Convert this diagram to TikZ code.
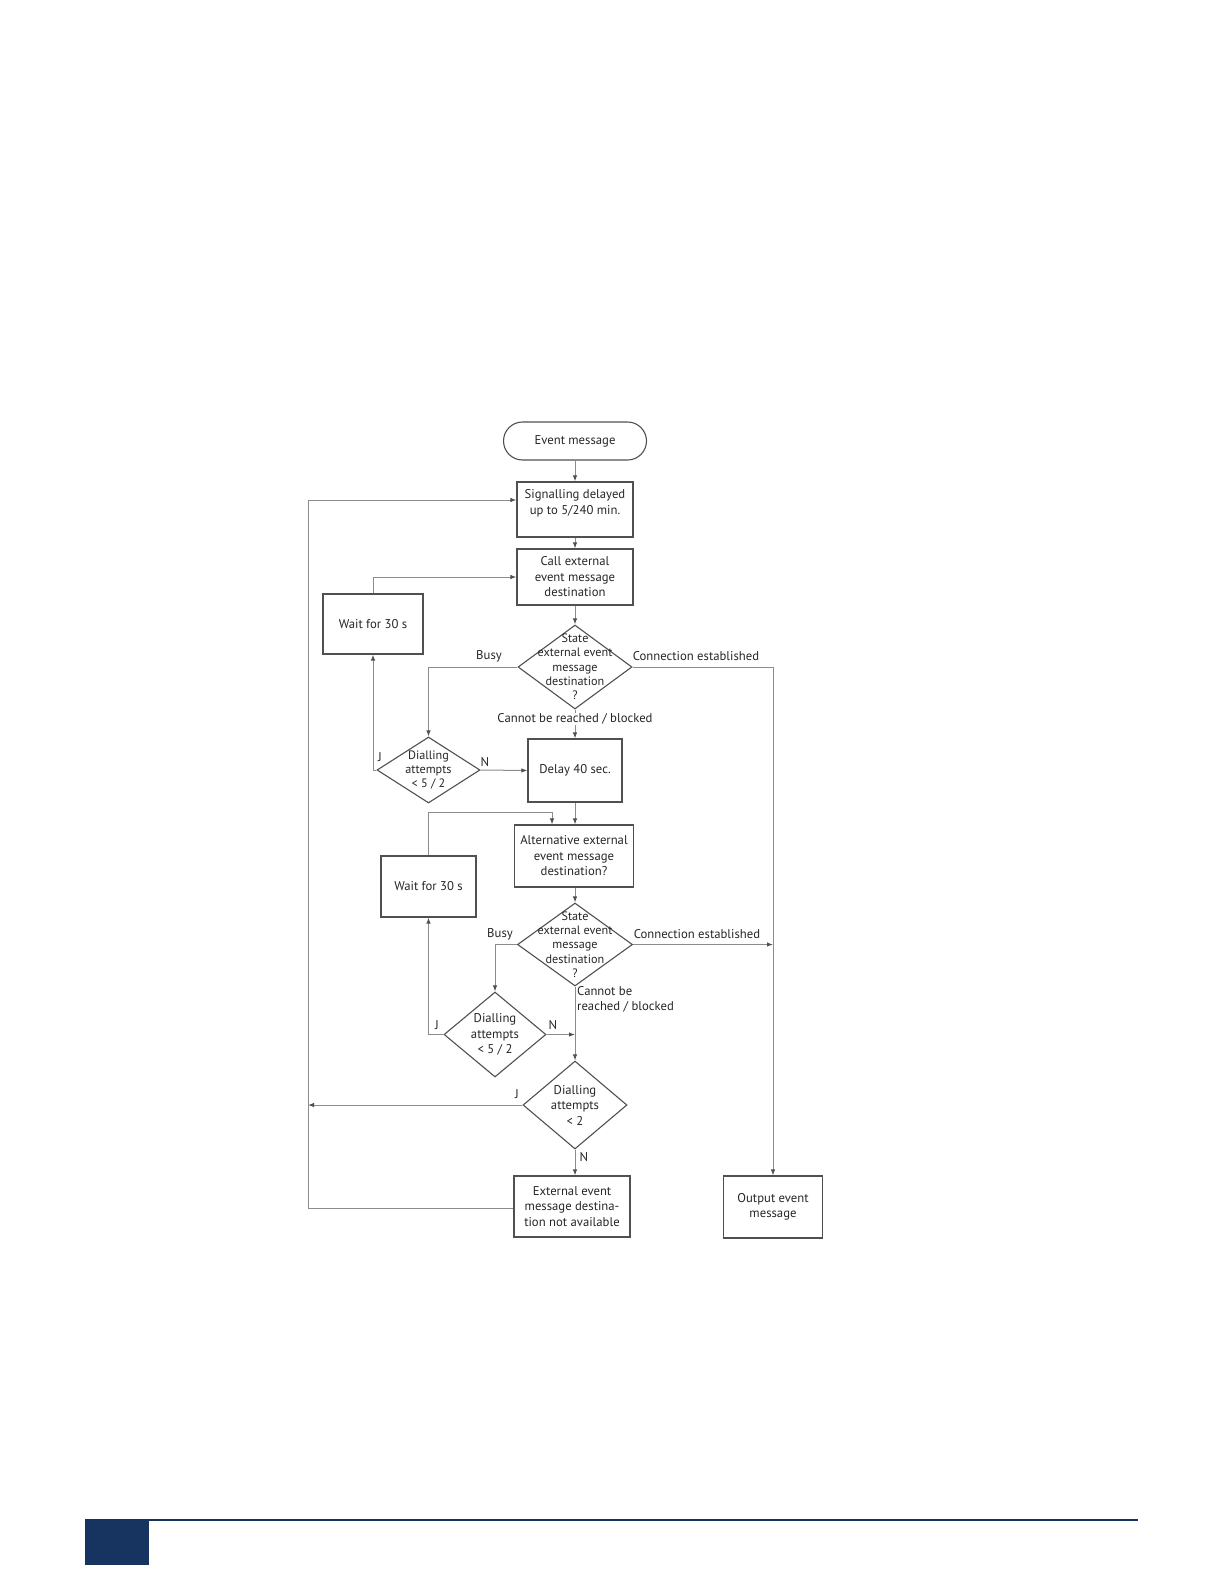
\documentclass[tikz,border=0pt]{standalone}
\usepackage{fontspec}
\setmainfont{PT Sans}
\usepackage{tikz}
\usetikzlibrary{positioning}
\usetikzlibrary{arrows.meta}
\usetikzlibrary{shapes.geometric}
\definecolor{boxgray}{HTML}{505050}
\definecolor{linegray}{HTML}{8C8C8C}
\definecolor{textgray}{HTML}{262626}
\definecolor{footblue}{HTML}{17335F}
\tikzset{
  myarrow/.style={
    draw=linegray,
    line width=1pt,
    -{Latex[length=6pt,width=4.5pt,color=boxgray]},
  },
  mybox/.style={
    draw=boxgray,
    shape=rectangle,
    line width=1.1pt,
    align=center,
    inner sep=2pt,
    text=textgray,
    font=\fontsize{12.7}{15.5}\selectfont
  },
  myterm/.style={
    mybox,
    rounded corners=19pt,
    minimum width=143pt,
    minimum height=38pt,
  },
  mydiamond/.style={
    draw=boxgray,
    shape=diamond,
    line width=1.1pt,
    inner sep=0pt,
  },
  dtext/.style={
    align=center,
    inner sep=0pt,
    text=textgray,
    font=\fontsize{12.2}{14.3}\selectfont
  },
  mylabel/.style={
    inner sep=1pt,
    text=textgray,
    font=\fontsize{12.7}{15.5}\selectfont
  },
}
\begin{document}
\begin{tikzpicture}[x=1pt, y=-1pt]
    \useasboundingbox (0,0) rectangle (1224,1584);

    \node[myterm] (event) at (575, 441) {Event message};
    \node[mybox, minimum width=116pt, minimum height=55pt] (sig) at (575, 509.5)
      {Signalling delayed\\up to 5/240 min.\\ \phantom{x}};
    \node[mybox, minimum width=116pt, minimum height=56pt] (call) at (575, 577)
      {Call external\\event message\\destination};
    \node[mybox, minimum width=100pt, minimum height=60pt] (wait1) at (373, 624) {Wait for 30 s};

    \node[mydiamond, minimum width=114pt, minimum height=84pt] (d1) at (575, 667) {};
    \node[dtext] (d1t) at (d1) {State\\external event\\message\\destination\\?};

    \node[mydiamond, minimum width=103pt, minimum height=66pt] (d2) at (428.5, 770) {};
    \node[dtext] (d2t) at (d2) {Dialling\\attempts\\< 5 / 2};
    \node[mybox, minimum width=94pt, minimum height=63pt] (delay) at (575, 770.5) {Delay 40 sec.};

    \node[mybox, minimum width=119pt, minimum height=62pt] (alt) at (574, 856)
      {Alternative external\\event message\\destination?};
    \node[mybox, minimum width=95pt, minimum height=61pt] (wait2) at (428.5, 886.5) {Wait for 30 s};

    \node[mydiamond, minimum width=115pt, minimum height=83pt] (d3) at (575, 944.5) {};
    \node[dtext] (d3t) at (d3) {State\\external event\\message\\destination\\?};

    \node[mydiamond, minimum width=102pt, minimum height=85pt] (d4) at (495, 1034.5) {};
    \node[dtext, font=\fontsize{12.7}{15.5}\selectfont] (d4t) at (d4) {Dialling\\attempts\\< 5 / 2};

    \node[mydiamond, minimum width=104pt, minimum height=88pt] (d5) at (575, 1105) {};
    \node[dtext, font=\fontsize{12.7}{15.5}\selectfont] (d5t) at (d5) {Dialling\\attempts\\< 2};

    \node[mybox, minimum width=116pt, minimum height=61pt] (ext) at (572, 1206.5)
      {External event\\message destina-\\tion not available};
    \node[mybox, minimum width=99pt, minimum height=62pt] (out) at (773, 1207) {Output event\\message};

    \coordinate (alttop) at (552, 812);
    \coordinate (leftx) at (308, 1208);

    % main column
    \draw[myarrow] (event) -- (sig);
    \draw[myarrow] (sig) -- (call);
    \draw[myarrow] (call) -- (d1);
    \draw[myarrow] (d1.south) -- (delay.north);
    \draw[myarrow] (delay.south) -- (delay.south |- alt.north);
    \draw[myarrow] (alt.south -| d3.north) -- (d3.north);
    \draw[myarrow] (d3.south) -- (d5.north);
    \draw[myarrow] (d5.south) -- (d5.south |- ext.north);

    % busy loops
    \draw[myarrow] (d1.west) -| (d2.north);
    \draw[myarrow] (d2.west) -| (wait1.south);
    \draw[myarrow] (wait1.north) |- (call.west);
    \draw[myarrow] (d2.east) -- (delay.west);
    \draw[myarrow] (d3.west) -| (d4.north);
    \draw[myarrow] (d4.west) -| (wait2.south);
    \draw[myarrow] (wait2.north) |- (alttop) -- (alttop |- alt.north);
    \draw[myarrow] (d4.east) -- (d4.east -| d3.south);

    % connection established
    \draw[myarrow] (d1.east) -| (out.north);
    \draw[myarrow] (d3.east) -- (d3.east -| out.north);

    % back to start
    \draw[myarrow] (d5.west) -- (d5.west -| leftx);
    \draw[myarrow] (ext.west |- leftx) -- (leftx) |- ([yshift=9.5pt]sig.west);

    % labels
    \node[mylabel] (busy1) at (489, 656) {Busy};
    \node[mylabel] (conn1) at (696, 656) {Connection established};
    \node[mylabel, fill=white] (cant1) at (575, 719) {Cannot be reached / blocked};
    \node[mylabel] (j2) at (380, 757) {J};
    \node[mylabel] (n2) at (485, 762) {N};
    \node[mylabel] (busy3) at (500, 934) {Busy};
    \node[mylabel] (conn3) at (697, 934) {Connection established};
    \node[mylabel, align=left, anchor=north west] (cant3) at (576, 985) {Cannot be\\reached / blocked};
    \node[mylabel] (j4) at (437, 1025) {J};
    \node[mylabel] (n4) at (553, 1025) {N};
    \node[mylabel] (j5) at (517, 1094) {J};
    \node[mylabel] (n5) at (584, 1157) {N};

    % footer
    \fill[footblue] (85,1519) rectangle (149,1565);
    \draw[footblue, line width=2pt] (85,1520) -- (1138,1520);
\end{tikzpicture}
\end{document}
